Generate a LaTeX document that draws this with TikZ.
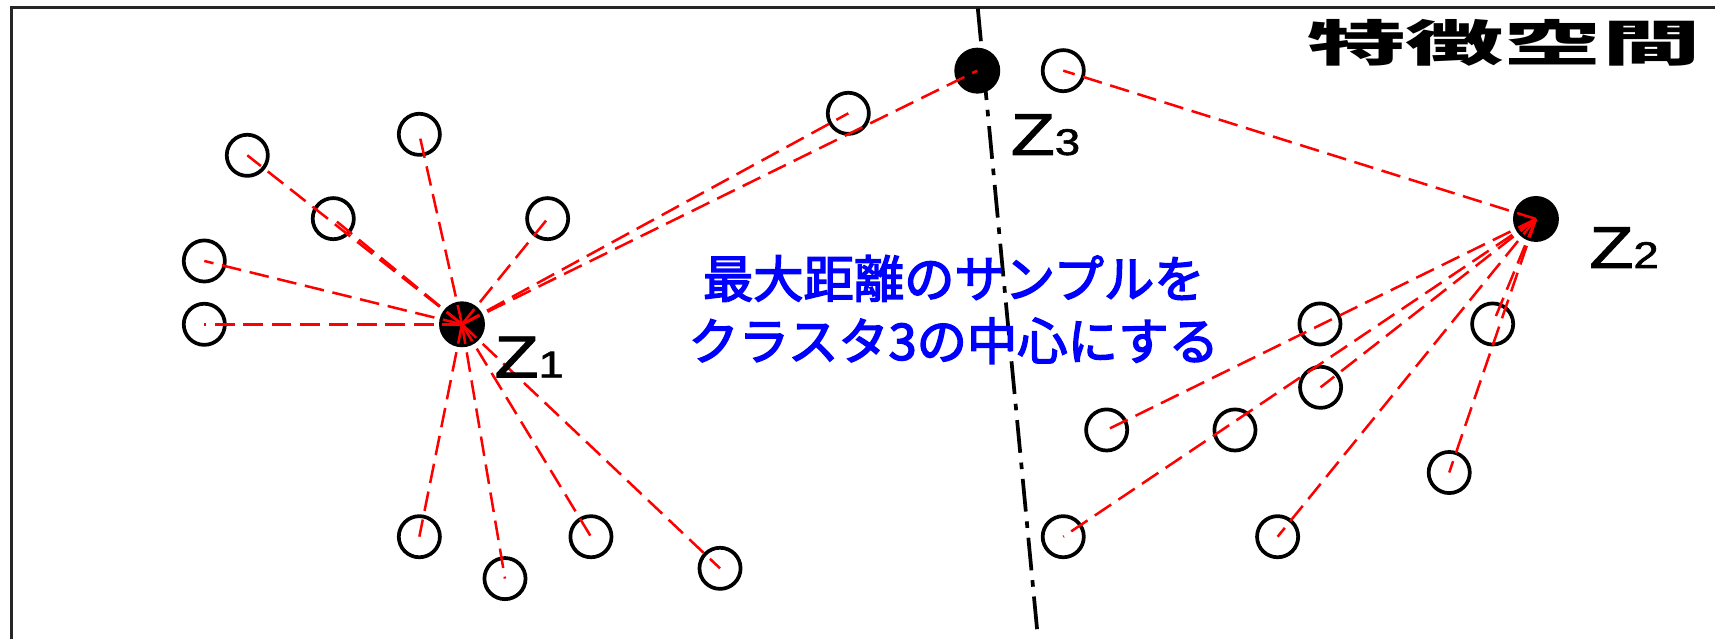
\documentclass[tikz,border=0pt]{standalone}
\usepackage{fontspec}
\usepackage{graphicx}
\setmainfont{Liberation Sans}
\newfontfamily\zfont[FakeBold=1.5]{Liberation Sans}
\newfontfamily\cjk{Noto Sans CJK JP}
\newfontfamily\cjkmid[FakeBold=3]{Noto Sans CJK JP}
\definecolor{pureblue}{RGB}{0,0,255}
\definecolor{purered}{RGB}{255,0,0}
\tikzset{
  samp/.style={circle, draw=black, line width=3.4pt, minimum size=37.6pt, inner sep=0pt},
  ctr/.style={circle, fill=black, minimum size=42pt, inner sep=0pt},
  dist/.style={draw=purered, line width=2.3pt, dash pattern=on 18pt off 8pt},
  bound/.style={draw=black, line width=3.4pt, dash pattern=on 30pt off 9pt on 6pt off 9pt},
  zlabel/.style={anchor=base west, inner sep=0pt, font=\zfont\fontsize{54}{54}\selectfont},
}
\newcommand{\zlab}[1]{\scalebox{1.22}[1]{Z{\fontsize{34}{34}\selectfont #1}}}
\begin{document}
\begin{tikzpicture}[x=1pt,y=-1pt]
\useasboundingbox (0,0) rectangle (1568,584);
% frame (top and left edges visible)
\draw[line width=2.2pt, black!85] (10.5,584) -- (10.5,6.8) -- (1568,6.8);

% title
\node[inner sep=0pt] (title) at (1375,39) {\cjk\bfseries\fontsize{45}{45}\selectfont\scalebox{2.0}[1]{特徴空間}};

% dash-dot boundary
\coordinate (btop) at (894,7.8);
\coordinate (bbot) at (949,584);
\draw[bound] (btop) -- (bbot);

% centres
\node[ctr] (z1) at (422.4,296.5) {};
\node[ctr] (z2) at (1404.3,200.2) {};
\node[ctr] (z3) at (893.5,64.6) {};

% cluster 1 samples
\node[samp] (a1) at (226.1,142) {};
\node[samp] (a2) at (383.4,122.8) {};
\node[samp] (a3) at (304.7,199.9) {};
\node[samp] (a4) at (500.7,199.9) {};
\node[samp] (a5) at (186.8,238.6) {};
\node[samp] (a6) at (186.8,296.5) {};
\node[samp] (a7) at (383.4,490.7) {};
\node[samp] (a8) at (461.7,529) {};
\node[samp] (a9) at (540.3,490.7) {};
\node[samp] (a10) at (658.3,519.6) {};
\node[samp] (a11) at (775.6,103.6) {};

% cluster 2 samples
\node[samp] (b1) at (972.1,64.6) {};
\node[samp] (b2) at (1206.8,296.2) {};
\node[samp] (b3) at (1364.7,296.2) {};
\node[samp] (b4) at (1207.4,354.1) {};
\node[samp] (b5) at (1011.8,393.1) {};
\node[samp] (b6) at (1129.1,393.1) {};
\node[samp] (b7) at (972.1,490.7) {};
\node[samp] (b8) at (1168.1,490.7) {};
\node[samp] (b9) at (1325,432) {};

% distance lines from z1
\foreach \s in {a1,a2,a3,a4,a5,a6,a7,a8,a9,a10,a11,z3}
  \draw[dist] (z1.center) -- (\s.center);
% distance lines from z2
\foreach \s in {b1,b3,b4,b5,b7,b8,b9}
  \draw[dist] (z2.center) -- (\s.center);

% labels
\node[zlabel] (l1) at (452,345) {\zlab{1}};
\node[zlabel] (l2) at (1453,245) {\zlab{2}};
\node[zlabel] (l3) at (924,141.7) {\zlab{3}};

% annotation
\node[align=center, text=pureblue, inner sep=0pt, font=\cjkmid\fontsize{46}{57}\selectfont] (note) at (872,283)
  {最大距離のサンプルを\\クラスタ3の中心にする};
\end{tikzpicture}
\end{document}
